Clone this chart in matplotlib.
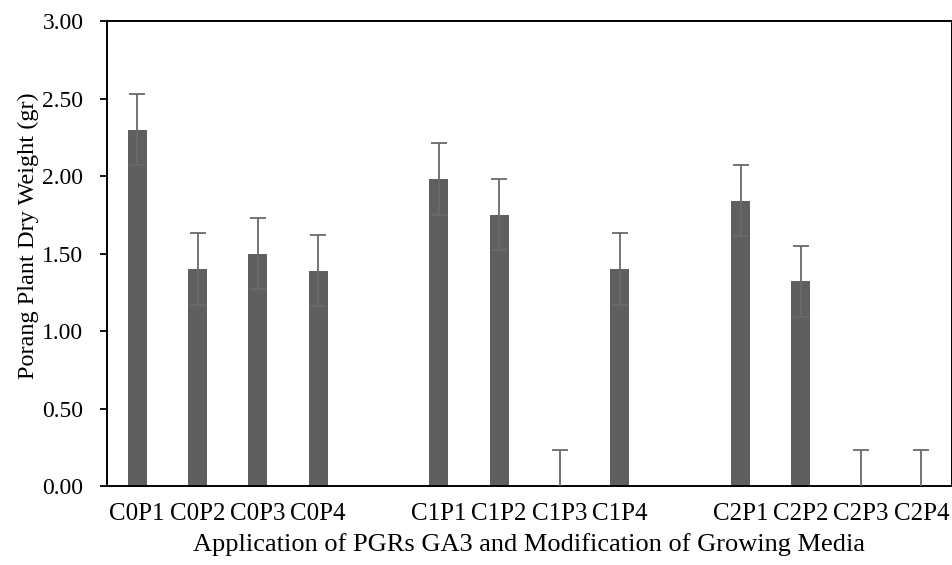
import matplotlib.pyplot as plt
import numpy as np

plt.rcParams['font.family'] = ['Liberation Serif', 'DejaVu Serif']

labels = ['C0P1', 'C0P2', 'C0P3', 'C0P4', '',
          'C1P1', 'C1P2', 'C1P3', 'C1P4', '',
          'C2P1', 'C2P2', 'C2P3', 'C2P4']
weight = [2.30, 1.40, 1.50, 1.39, np.nan,
          1.98, 1.75, 0.00, 1.40, np.nan,
          1.84, 1.32, 0.00, 0.00]
err = [0.23, 0.23, 0.23, 0.23, np.nan,
       0.23, 0.23, 0.23, 0.23, np.nan,
       0.23, 0.23, 0.23, 0.23]

x = np.arange(len(labels))

fig = plt.figure(figsize=(9.53, 5.65), dpi=100)
ax = fig.add_axes([0.1123, 0.1398, 0.8863, 0.823])

ax.bar(x, weight, width=0.315, color='#5f5f5f', zorder=2)
ax.errorbar(x, weight, yerr=err, fmt='none', ecolor='#6a6a6a',
            elinewidth=1.3, capsize=6, capthick=1.3, zorder=3)

ax.set_xlim(-0.5, len(labels) - 0.5)
ax.set_ylim(0, 3)
ax.set_yticks(np.arange(0, 3.01, 0.5))
ax.set_yticklabels([f'{v:.2f}' for v in np.arange(0, 3.01, 0.5)])
ax.set_xticks(x)
ax.set_xticklabels(labels)
ax.tick_params(axis='x', length=0, pad=12, labelsize=18)
ax.tick_params(axis='y', length=5, width=1.3, pad=12, labelsize=17)
for s in ax.spines.values():
    s.set_linewidth(1.4)

ax.set_xlabel('Application of PGRs GA3 and Modification of Growing Media',
              fontsize=19, labelpad=6)
ax.set_ylabel('Porang Plant Dry Weight (gr)', fontsize=17.5)
ax.yaxis.set_label_coords(-0.08, 0.538)

fig.savefig('out.png', dpi=100)
